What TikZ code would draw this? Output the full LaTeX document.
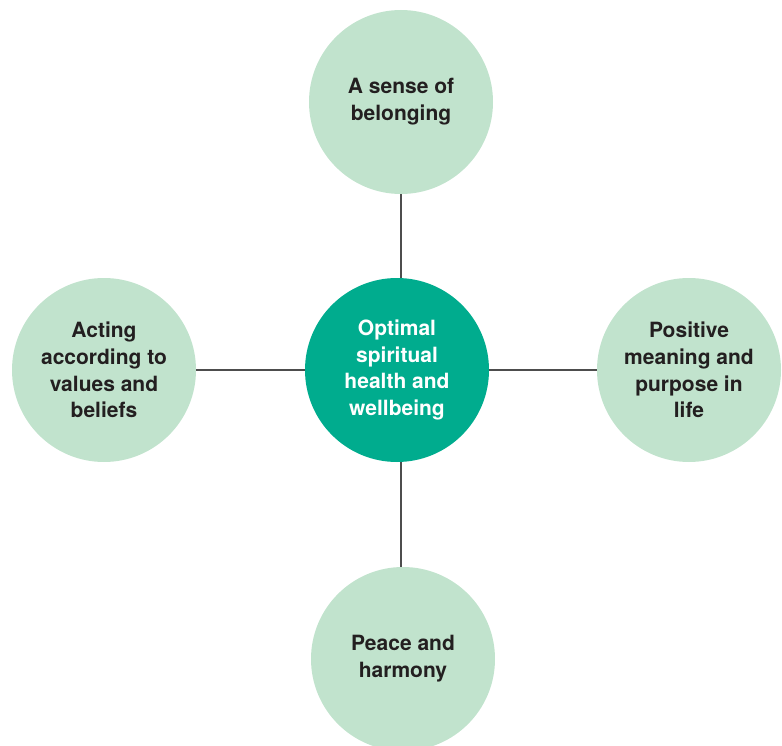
\documentclass[tikz,border=0pt]{standalone}
\usepackage{fontspec}
\setmainfont{TeX Gyre Heros}
\definecolor{hubteal}{HTML}{00AC8E}
\definecolor{pale}{HTML}{C1E3CD}
\definecolor{ink}{HTML}{231F20}
\definecolor{linec}{HTML}{4D4D4D}
\begin{document}
\begin{tikzpicture}[x=1pt,y=-1pt,
  outer/.style={circle,fill=pale,minimum size=184pt,inner sep=0pt,text=ink,align=center,
    font=\fontsize{21}{26.8}\selectfont\bfseries},
  hub/.style={circle,fill=hubteal,minimum size=184pt,inner sep=0pt,text=white,align=center,
    font=\fontsize{21}{26.8}\selectfont\bfseries},
  link/.style={draw=linec,line width=1.6pt}]
\useasboundingbox (0,0) rectangle (782,746);
\begin{scope}
\clip (0,0) rectangle (782,746);
\node[hub] (c) at (397,370) {Optimal\\spiritual\\health and\\wellbeing};
\node[outer] (t) at (401,102) {A sense of\\belonging};
\node[outer] (b) at (403,659) {Peace and\\harmony};
\node[outer] (l) at (104,370) {Acting\\according to\\values and\\beliefs};
\node[outer] (r) at (689,370) {Positive\\meaning and\\purpose in\\life};
\path[link] (t.south) -- (c.north -| t.south);
\path[link] (c.south -| t.south) -- (b.north -| t.south);
\path[link] (l.east) -- (c.west);
\path[link] (c.east) -- (r.west);
\end{scope}
\end{tikzpicture}
\end{document}
